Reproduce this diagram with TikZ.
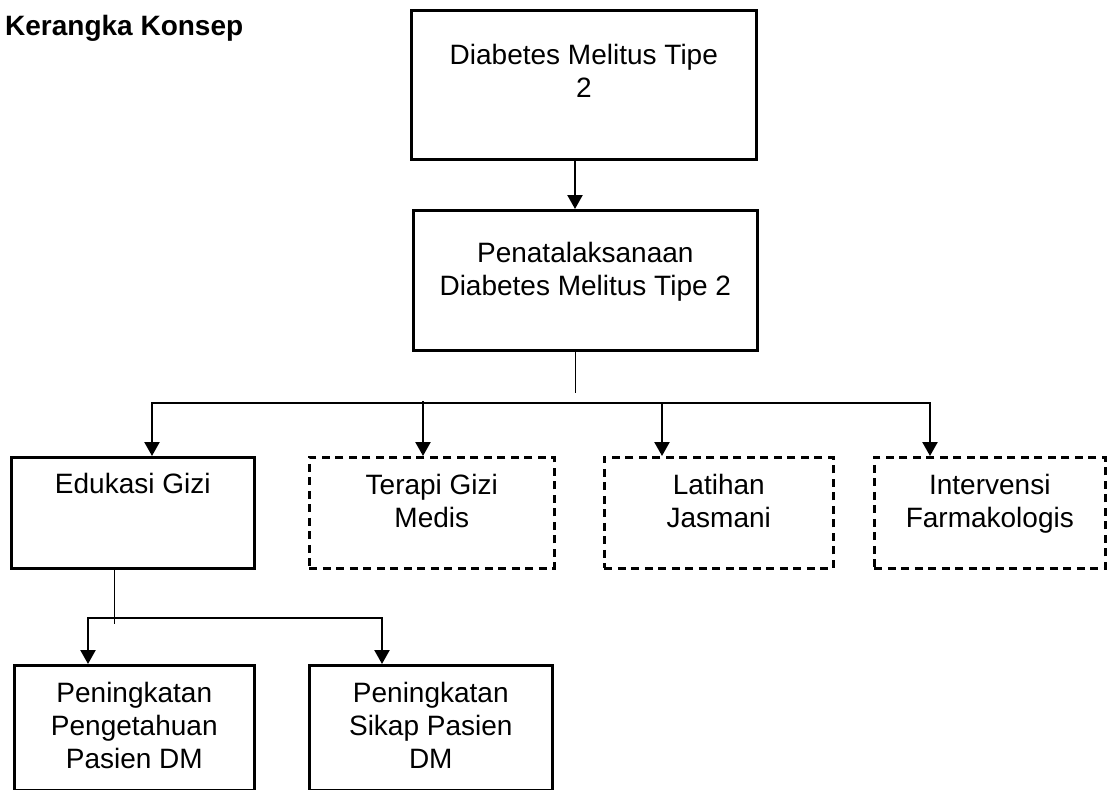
\documentclass[tikz,border=0pt]{standalone}
\usepackage{fontspec}
\setmainfont{Liberation Sans}
\usetikzlibrary{arrows.meta,calc}
\begin{document}
\begin{tikzpicture}[x=1pt,y=-1pt,
  box/.style={draw, line width=2.6pt, inner sep=0pt, anchor=north west},
  dbox/.style={box, dash pattern=on 8pt off 5.5pt},
  txt/.style={anchor=north, align=center, inner sep=0pt, font=\fontsize{28}{33}\selectfont},
  arr/.style={line width=2.4pt, -{Triangle[width=15pt,length=14pt]}},
  thinline/.style={line width=1pt},
  busline/.style={line width=1.3pt},
]
\useasboundingbox (0,0) rectangle (1109,790);

% title
\node[anchor=base west, inner sep=0pt, font=\fontsize{28}{33}\selectfont\bfseries] (title) at (5,35) {Kerangka Konsep};

% top boxes
\node[box, minimum width=345pt, minimum height=149pt] (b1) at (410,9) {};
\node[txt] (b1t) at ($(b1.north)+(0,35)$) {Diabetes Melitus Tipe\\2};
\node[box, minimum width=344pt, minimum height=140pt] (b2) at (412,209) {};
\node[txt] (b2t) at ($(b2.north)+(0,33.5)$) {Penatalaksanaan\\Diabetes Melitus Tipe 2};

% middle row
\node[box, minimum width=243pt, minimum height=111pt] (e) at (10,456) {};
\node[txt] (et) at ($(e.north)+(0,17)$) {Edukasi Gizi};
\node[dbox, minimum width=245pt, minimum height=111pt] (t) at (308,456) {};
\node[txt] (tt) at ($(t.north)+(0,18.5)$) {Terapi Gizi\\Medis};
\node[dbox, minimum width=229pt, minimum height=111pt] (l) at (603,456) {};
\node[txt] (lt) at ($(l.north)+(0,18.5)$) {Latihan\\Jasmani};
\node[dbox, minimum width=231pt, minimum height=111pt] (f) at (873,456) {};
\node[txt] (ft) at ($(f.north)+(0,18.5)$) {Intervensi\\Farmakologis};

% bottom row
\node[box, minimum width=240pt, minimum height=125pt] (p1) at (13,664) {};
\node[txt] (p1t) at ($(p1.north)+(0,18)$) {Peningkatan\\Pengetahuan\\Pasien DM};
\node[box, minimum width=243pt, minimum height=125pt] (p2) at (308,664) {};
\node[txt] (p2t) at ($(p2.north)+(0,18)$) {Peningkatan\\Sikap Pasien\\DM};

% connectors: top
\coordinate (ax) at (575,0);
\draw[arr] (b1.south -| ax) -- (b2.north -| ax);
\coordinate (h1) at (575,393);
\draw[thinline] (b2.south -| ax) -- (h1);

\coordinate (busL) at (152,403);
\coordinate (tx) at (423,403);
\coordinate (lx) at (662,403);
\coordinate (busR) at (930,403);
\draw[busline] (busL) -- (busR);
\draw[arr] ($(busL)+(0,-1)$) -- (e.north -| busL);
\draw[arr] ($(tx)+(0,-2)$) -- (t.north -| tx);
\draw[arr] ($(lx)+(0,-1)$) -- (l.north -| lx);
\draw[arr] ($(busR)+(0,-1)$) -- (f.north -| busR);

% connectors: bottom
\coordinate (ex) at (114,0);
\coordinate (h2) at (114,624);
\draw[thinline] (e.south -| ex) -- (h2);
\coordinate (bus2L) at (88,618);
\coordinate (bus2R) at (382,618);
\draw[busline] (bus2L) -- (bus2R);
\draw[arr] ($(bus2L)+(0,-1)$) -- (p1.north -| bus2L);
\draw[arr] ($(bus2R)+(0,-1)$) -- (p2.north -| bus2R);
\end{tikzpicture}
\end{document}
